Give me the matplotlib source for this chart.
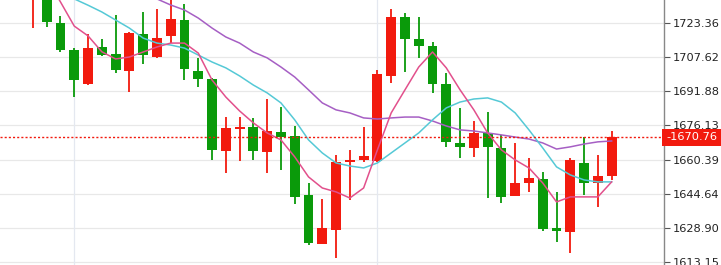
import matplotlib
matplotlib.use("Agg")
import matplotlib.pyplot as plt
import matplotlib.transforms as mtransforms
import numpy as np

# OHLC per candle, oldest first
opens = [1737.0, 1738.0, 1723.2, 1710.8, 1695.2, 1712.2, 1709.0, 1701.2, 1718.2, 1707.6,
         1717.2, 1724.6, 1701.2, 1697.5, 1664.4, 1674.5, 1675.4, 1664.0, 1673.1, 1671.3,
         1644.2, 1621.7, 1628.1, 1659.4, 1660.3, 1659.8, 1698.9, 1726.0, 1715.9, 1712.7,
         1695.2, 1668.1, 1665.8, 1672.7, 1665.8, 1643.7, 1649.7, 1651.6, 1629.0, 1627.2,
         1658.9, 1649.7, 1652.9]
highs = [1748.0, 1741.0, 1726.4, 1711.7, 1718.2, 1715.9, 1726.9, 1719.1, 1728.3, 1729.7,
         1734.5, 1732.0, 1707.1, 1698.0, 1680.0, 1680.0, 1679.6, 1688.3, 1684.6, 1675.9,
         1649.7, 1642.4, 1662.6, 1664.9, 1675.4, 1701.6, 1729.7, 1727.8, 1726.0, 1714.5,
         1700.3, 1684.2, 1678.2, 1682.3, 1671.8, 1668.1, 1661.2, 1654.8, 1645.6, 1661.2,
         1670.9, 1662.6, 1673.6]
lows = [1720.9, 1721.4, 1709.9, 1689.2, 1694.8, 1708.1, 1700.3, 1691.5, 1704.4, 1707.2,
        1714.0, 1697.0, 1693.8, 1660.3, 1654.3, 1659.8, 1660.3, 1654.3, 1655.7, 1640.1,
        1621.2, 1621.5, 1615.3, 1641.9, 1659.4, 1659.4, 1695.7, 1700.7, 1707.2, 1691.1,
        1666.3, 1661.2, 1661.7, 1642.8, 1640.5, 1643.7, 1645.6, 1627.7, 1622.6, 1617.6,
        1644.2, 1638.7, 1651.1]
closes = [1745.0, 1723.7, 1710.8, 1697.0, 1711.7, 1708.5, 1701.6, 1718.6, 1708.5, 1716.3,
          1725.1, 1702.1, 1697.5, 1664.9, 1675.0, 1675.4, 1664.4, 1673.6, 1670.8, 1643.3,
          1622.1, 1629.0, 1659.4, 1660.3, 1662.1, 1699.8, 1726.0, 1715.9, 1712.7, 1695.2,
          1668.6, 1666.3, 1672.7, 1666.3, 1643.3, 1649.7, 1652.0, 1628.6, 1627.7, 1660.3,
          1649.7, 1652.9, 1670.76]

# moving averages
ma_fast = [1755.0, 1743.5, 1732.9, 1721.8, 1717.3, 1710.0, 1706.7, 1707.6, 1709.9, 1712.2,
           1714.0, 1714.0, 1709.4, 1697.0, 1689.2, 1682.8, 1677.3, 1672.7, 1669.5, 1661.7,
           1652.5, 1647.4, 1645.6, 1642.8, 1647.4, 1664.9, 1681.9, 1692.5, 1703.0, 1709.9,
           1702.6, 1692.5, 1683.3, 1672.7, 1664.9, 1660.3, 1656.6, 1649.7, 1641.0, 1643.3,
           1643.3, 1643.3, 1650.2]
ma_mid = [1742.5, 1739.5, 1737.0, 1734.3, 1731.4, 1728.3, 1724.6, 1720.9, 1716.3, 1714.0,
          1713.1, 1711.7, 1708.5, 1705.3, 1702.6, 1698.9, 1694.7, 1691.1, 1686.5, 1678.7,
          1669.5, 1663.5, 1658.9, 1657.5, 1656.6, 1658.9, 1663.5, 1668.1, 1672.7, 1678.7,
          1684.2, 1686.9, 1688.3, 1688.8, 1686.9, 1681.9, 1674.1, 1665.8, 1657.1, 1653.4,
          1651.1, 1650.2, 1650.2]
ma_slow = [1760.0, 1757.0, 1754.0, 1751.0, 1748.0, 1745.0, 1742.0, 1739.5, 1737.0, 1734.3,
           1731.5, 1729.2, 1725.5, 1720.9, 1716.8, 1714.0, 1709.9, 1707.2, 1703.0, 1698.4,
           1692.5, 1686.5, 1683.3, 1681.9, 1679.6, 1679.1, 1679.6, 1680.0, 1680.0, 1678.2,
           1675.9, 1674.1, 1673.6, 1672.7, 1671.8, 1670.8, 1669.9, 1668.1, 1665.3, 1666.3,
           1667.6, 1668.6, 1669.0]

price_ticks = [1613.15, 1628.90, 1644.64, 1660.39, 1676.13, 1691.88, 1707.62, 1723.36]
session_breaks = [3, 25]
last_price = 1670.76

UP = "#f21a0e"
DOWN = "#0a9a0a"

fig = plt.figure(figsize=(7.21, 2.65), dpi=100)
ax = fig.add_axes([0, 0, 664 / 721, 1])

o = np.array(opens)
c = np.array(closes)
h = np.array(highs)
l = np.array(lows)
x = np.arange(len(o))
cols = np.where(c >= o, UP, DOWN)

for t in price_ticks:
    ax.axhline(t, color="#e8e8e8", lw=0.9, zorder=0)
for b in session_breaks:
    ax.axvline(b, color="#e4e8f0", lw=0.9, zorder=0)

ax.vlines(x, l, h, colors=cols, lw=1.3, zorder=2)
body = np.maximum(np.abs(c - o), 0.6)
ax.bar(x, body, bottom=np.minimum(o, c), width=0.72, color=cols, zorder=3)

ax.plot(x, ma_slow, color="#a65fc4", lw=1.1, zorder=4)
ax.plot(x, ma_mid, color="#55c9d6", lw=1.1, zorder=4)
ax.plot(x, ma_fast, color="#e2508c", lw=1.1, zorder=4)

ax.axhline(last_price, color="#f21a0e", lw=1.0, ls=(0, (1.5, 1.5)), zorder=5)

ax.set_xlim(-2.39, 45.8)
ax.set_ylim(1612.0, 1733.8)
ax.set_xticks([])
ax.yaxis.tick_right()
ax.set_yticks(price_ticks)
ax.set_yticklabels([f"{t:.2f}" for t in price_ticks])
ax.tick_params(axis="y", direction="out", length=4, width=0.8, color="#555555",
               labelsize=8.2, labelcolor="#222222", pad=2)
for side in ["left", "top", "bottom"]:
    ax.spines[side].set_visible(False)
ax.spines["right"].set_color("#888888")
ax.spines["right"].set_linewidth(1.0)

trans = mtransforms.blended_transform_factory(ax.transAxes, ax.transData)
ax.text(1.003, last_price, "-1670.76", transform=trans, va="center", ha="left",
        color="white", fontsize=8.2, clip_on=False, zorder=10,
        bbox=dict(boxstyle="square,pad=0.32", fc=UP, ec="none"))

fig.savefig("out.png", dpi=100)
